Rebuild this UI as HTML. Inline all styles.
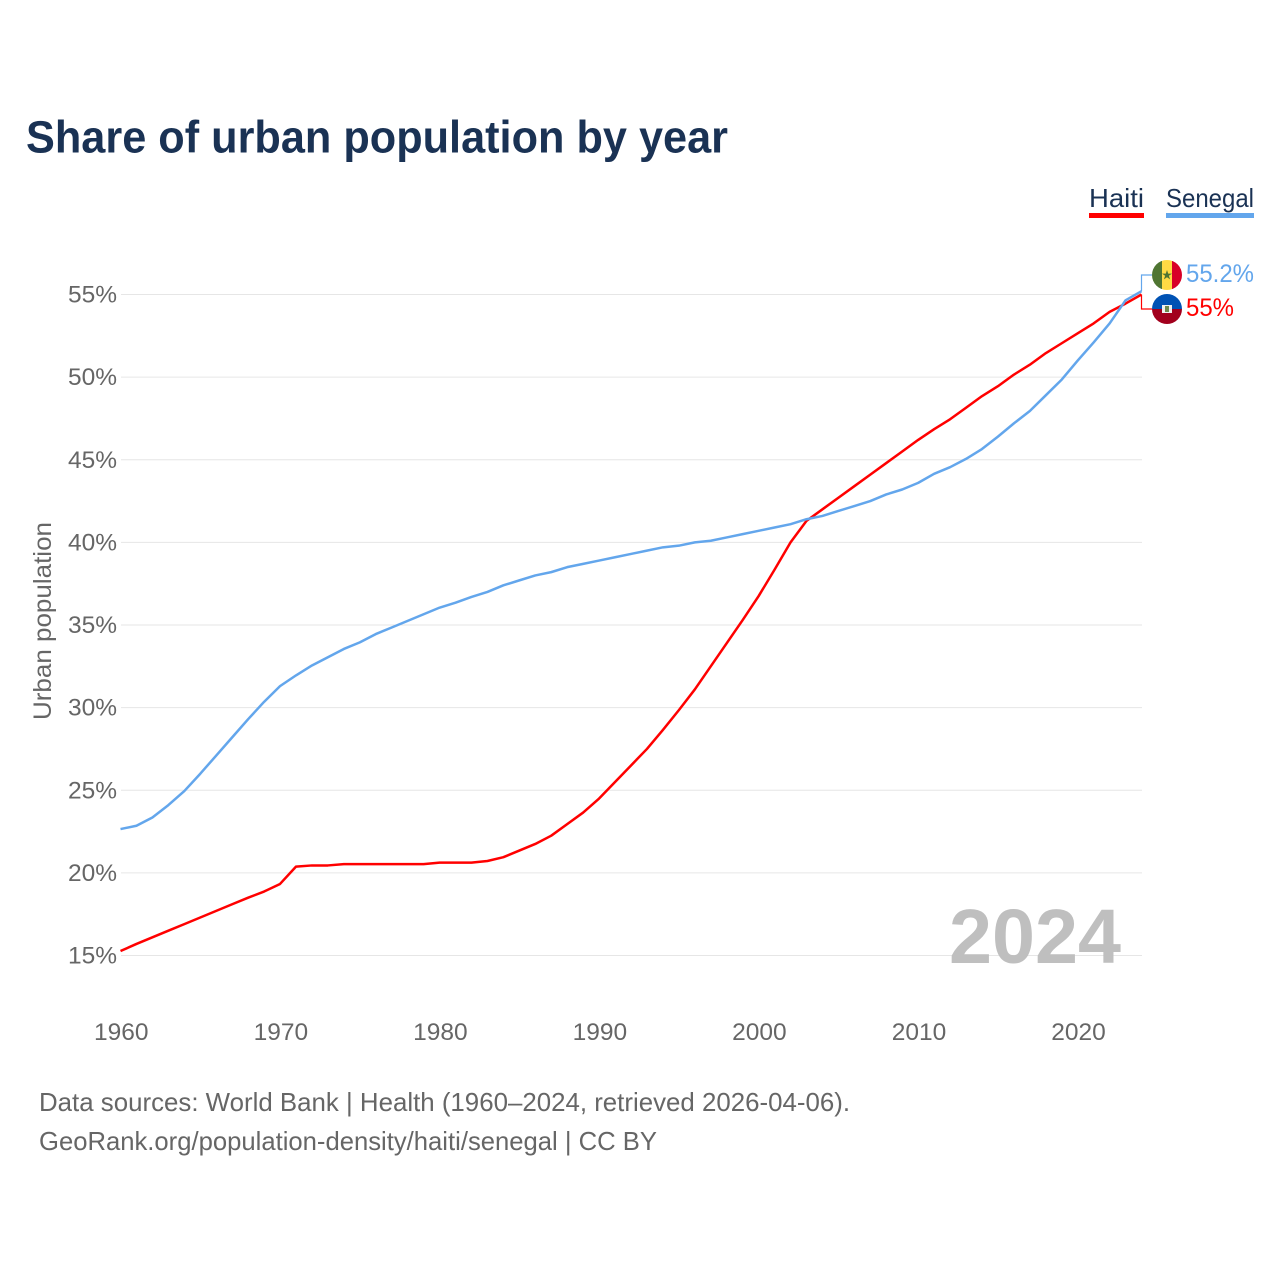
<!DOCTYPE html>
<html lang="en">
<head>
<meta charset="utf-8">
<title>Share of urban population by year</title>
<style>
html,body{margin:0;padding:0;background:#fff;width:1280px;height:1280px;overflow:hidden}
svg{display:block}
text{font-family:"Liberation Sans",sans-serif}
</style>
</head>
<body>
<svg id="chart" xmlns="http://www.w3.org/2000/svg" width="1280" height="1280" viewBox="0 0 1280 1280">
  <rect x="0" y="0" width="1280" height="1280" fill="#fff"/>
  <text x="26" y="152.5" font-size="45" font-weight="700" fill="#1a3254" textLength="702" lengthAdjust="spacingAndGlyphs">Share of urban population by year</text>

  <g id="grid"></g>
  <g id="yticks"></g>
  <g id="xticks"></g>
  <text transform="translate(51,621) rotate(-90)" text-anchor="middle" font-size="25" fill="#666" textLength="198" lengthAdjust="spacingAndGlyphs">Urban population</text>

  <text x="949" y="963" font-size="77" font-weight="700" fill="#bfbfbf" textLength="172" lengthAdjust="spacingAndGlyphs">2024</text>

  <g id="series"></g>

  <g>
    <text x="1089" y="207" font-size="26" fill="#1a3254" textLength="55" lengthAdjust="spacingAndGlyphs">Haiti</text>
    <rect x="1089" y="213" width="55" height="5" fill="#ff0000"/>
  </g>
  <g>
    <text x="1166" y="207" font-size="26" fill="#1a3254" textLength="88" lengthAdjust="spacingAndGlyphs">Senegal</text>
    <rect x="1166" y="213" width="88" height="5" fill="#63a6ec"/>
  </g>

  <path id="connector-senegal" fill="none" stroke="#63a6ec" stroke-width="1.2"/>
  <path id="connector-haiti" fill="none" stroke="#ff0000" stroke-width="1.2"/>

  <defs>
    <clipPath id="clip-sn"><circle cx="1167" cy="275" r="15"/></clipPath>
    <clipPath id="clip-ht"><circle cx="1167" cy="309" r="15"/></clipPath>
  </defs>
  <g clip-path="url(#clip-sn)">
    <rect x="1152" y="260" width="10" height="30" fill="#4f7532"/>
    <rect x="1162" y="260" width="10" height="30" fill="#ffda44"/>
    <rect x="1172" y="260" width="10" height="30" fill="#d80027"/>
    <polygon points="1167,270 1168.2,273.6 1172,273.6 1168.9,275.8 1170.1,279.4 1167,277.2 1163.9,279.4 1165.1,275.8 1162,273.6 1165.8,273.6" fill="#4f7532"/>
  </g>
  <g clip-path="url(#clip-ht)">
    <rect x="1152" y="294" width="30" height="15" fill="#0052b4"/>
    <rect x="1152" y="309" width="30" height="15" fill="#a2001d"/>
    <rect x="1162" y="305" width="10" height="8" fill="#f0f0f0"/>
    <rect x="1165" y="306" width="4" height="6" fill="#6d8a4e"/>
  </g>

  <text id="value-senegal" x="1186" y="282" font-size="25" fill="#63a6ec" textLength="68" lengthAdjust="spacingAndGlyphs"></text>
  <text id="value-haiti" x="1186" y="316" font-size="25" fill="#ff0000" textLength="48" lengthAdjust="spacingAndGlyphs"></text>

  <text x="39" y="1111" font-size="26" fill="#666" textLength="811" lengthAdjust="spacingAndGlyphs">Data sources: World Bank | Health (1960–2024, retrieved 2026-04-06).</text>
  <text x="39" y="1150" font-size="26" fill="#666" textLength="618" lengthAdjust="spacingAndGlyphs">GeoRank.org/population-density/haiti/senegal | CC BY</text>
</svg>
<script>
const years = [1960,1961,1962,1963,1964,1965,1966,1967,1968,1969,1970,1971,1972,1973,1974,1975,1976,1977,1978,1979,1980,1981,1982,1983,1984,1985,1986,1987,1988,1989,1990,1991,1992,1993,1994,1995,1996,1997,1998,1999,2000,2001,2002,2003,2004,2005,2006,2007,2008,2009,2010,2011,2012,2013,2014,2015,2016,2017,2018,2019,2020,2021,2022,2023,2024];
const haitiValues = [15.27,15.7,16.1,16.5,16.9,17.3,17.7,18.1,18.5,18.87,19.33,20.38,20.45,20.45,20.53,20.53,20.53,20.53,20.53,20.53,20.62,20.62,20.62,20.72,20.95,21.35,21.75,22.25,22.95,23.65,24.5,25.5,26.5,27.5,28.65,29.85,31.1,32.5,33.9,35.3,36.75,38.35,40.0,41.3,42.0,42.7,43.4,44.1,44.8,45.5,46.2,46.85,47.45,48.15,48.85,49.45,50.15,50.75,51.45,52.05,52.65,53.25,53.95,54.45,55.0];
const senegalValues = [22.65,22.85,23.35,24.1,24.95,26.0,27.1,28.2,29.3,30.35,31.3,31.95,32.55,33.05,33.55,33.95,34.45,34.85,35.25,35.65,36.05,36.35,36.7,37.0,37.4,37.7,38.0,38.2,38.5,38.7,38.9,39.1,39.3,39.5,39.7,39.8,40.0,40.1,40.3,40.5,40.7,40.9,41.1,41.4,41.6,41.9,42.2,42.5,42.9,43.2,43.6,44.15,44.55,45.05,45.65,46.4,47.2,47.95,48.9,49.85,51.0,52.1,53.25,54.65,55.2];
const yTickValues = [15,20,25,30,35,40,45,50,55];
const xTickValues = [1960,1970,1980,1990,2000,2010,2020];
const haitiLabel = "55%";
const senegalLabel = "55.2%";

const NS = "http://www.w3.org/2000/svg";
function xScale(year){ return 120.5 + (year - 1960) * (1141.5 - 120.5) / 64; }
function yScale(v){ return 955.5 - (v - 15) * (955.5 - 294.5) / 40; }

const gridGroup = document.getElementById("grid");
const yGroup = document.getElementById("yticks");
const xGroup = document.getElementById("xticks");
const seriesGroup = document.getElementById("series");

yTickValues.forEach(function(v){
  const line = document.createElementNS(NS, "line");
  
  
  line.setAttribute("x1", 121);
  line.setAttribute("x2", 1142);
  line.setAttribute("y1", yScale(v));
  line.setAttribute("y2", yScale(v));
  line.setAttribute("stroke", "#e6e6e6");
  line.setAttribute("stroke-width", "1");
  gridGroup.appendChild(line);

  const label = document.createElementNS(NS, "text");
  
  
  label.setAttribute("x", 117);
  label.setAttribute("y", yScale(v) + 8);
  label.setAttribute("text-anchor", "end");
  label.setAttribute("font-size", "24.5");
  label.setAttribute("fill", "#666");
  label.textContent = v + "%";
  yGroup.appendChild(label);
});

xTickValues.forEach(function(y){
  const label = document.createElementNS(NS, "text");
  
  
  label.setAttribute("x", xScale(y) + 0.8);
  label.setAttribute("y", 1040);
  label.setAttribute("text-anchor", "middle");
  label.setAttribute("font-size", "24.5");
  label.setAttribute("fill", "#666");
  label.textContent = String(y);
  xGroup.appendChild(label);
});

function pathFor(values){
  return values.map(function(v, i){
    return (i ? "L" : "M") + xScale(years[i]).toFixed(2) + " " + yScale(v).toFixed(2);
  }).join(" ");
}

const haitiLine = document.createElementNS(NS, "path");


haitiLine.setAttribute("d", pathFor(haitiValues));
haitiLine.setAttribute("fill", "none");
haitiLine.setAttribute("stroke", "#ff0000");
haitiLine.setAttribute("stroke-width", "2.5");
haitiLine.setAttribute("stroke-linejoin", "round");
seriesGroup.appendChild(haitiLine);

const senegalLine = document.createElementNS(NS, "path");


senegalLine.setAttribute("d", pathFor(senegalValues));
senegalLine.setAttribute("fill", "none");
senegalLine.setAttribute("stroke", "#63a6ec");
senegalLine.setAttribute("stroke-width", "2.5");
senegalLine.setAttribute("stroke-linejoin", "round");
seriesGroup.appendChild(senegalLine);

const endX = xScale(years[years.length - 1]);
document.getElementById("connector-senegal").setAttribute("d",
  "M" + endX + " " + yScale(senegalValues[senegalValues.length - 1]) + " V275 H1152");
document.getElementById("connector-haiti").setAttribute("d",
  "M" + endX + " " + yScale(haitiValues[haitiValues.length - 1]) + " V309 H1152");
document.getElementById("value-senegal").textContent = senegalLabel;
document.getElementById("value-haiti").textContent = haitiLabel;
</script>
</body>
</html>
